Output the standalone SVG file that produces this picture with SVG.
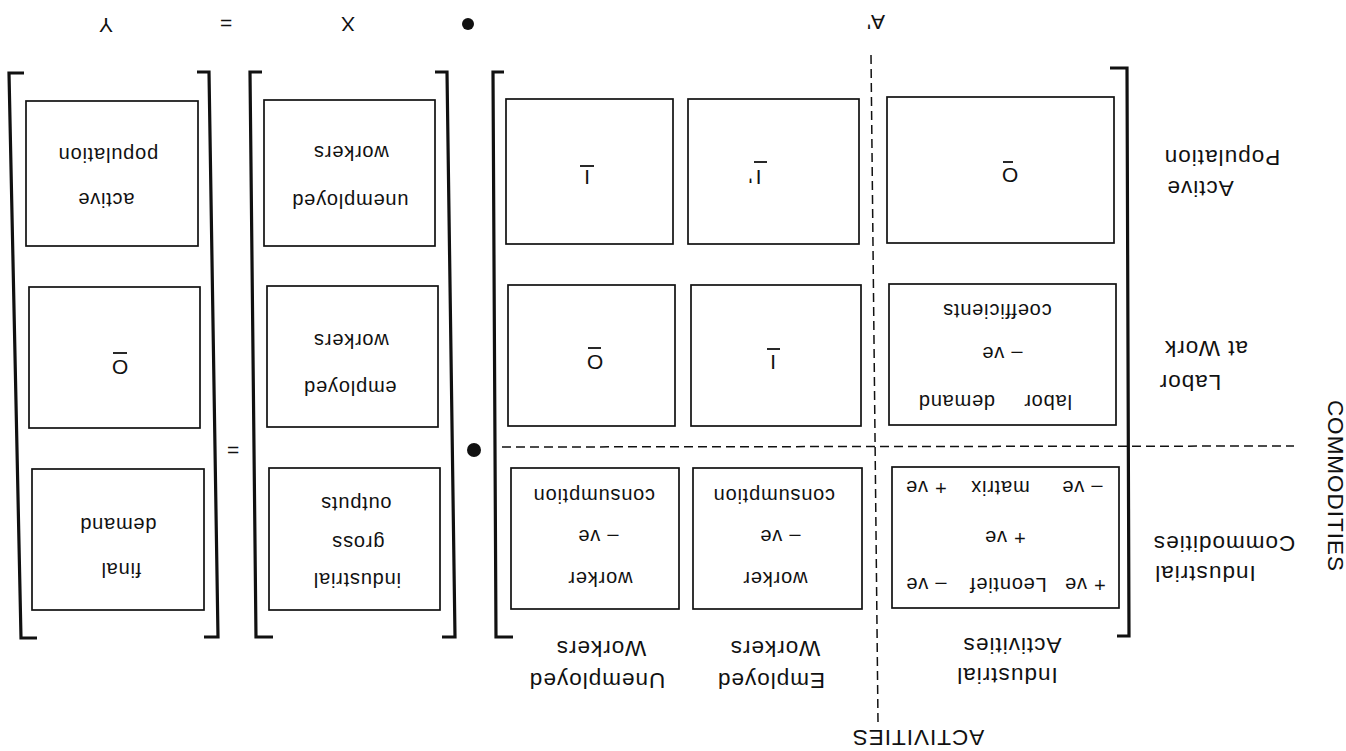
<svg xmlns="http://www.w3.org/2000/svg" width="1346" height="751" viewBox="0 0 1346 751" font-family="Liberation Sans, Arial, Helvetica, sans-serif">
<style>
.t{font-family:"Liberation Sans",Arial,Helvetica,sans-serif;fill:#111;text-anchor:middle;dominant-baseline:central}
.lab{font-size:22.5px;letter-spacing:1px}
.bx{font-size:20px;letter-spacing:0.8px}
.sym{font-size:21px}
.box{fill:#fff;stroke:#111;stroke-width:1.7}
.br{fill:none;stroke:#111;stroke-width:3.2;stroke-linejoin:miter}
.dash{fill:none;stroke:#111;stroke-width:1.5;stroke-dasharray:9 5}
.bar{stroke:#111;stroke-width:1.8}
</style>
<rect width="1346" height="751" fill="#fff"/>

<g id="top-labels" font-family="Liberation Sans, Arial, sans-serif">
<text class="t sym" x="106" y="25" transform="rotate(180 106 25)">Y</text>
<text class="t sym" x="226" y="23" transform="rotate(180 226 23)">=</text>
<text class="t sym" x="348" y="24" transform="rotate(180 348 24)">X</text>
<circle cx="468" cy="24" r="6" fill="#111"/>
<text class="t sym" x="876" y="22" transform="rotate(180 876 22)">A'</text>
</g>

<g id="connectors">
<line class="dash" x1="502" y1="447" x2="1294" y2="446"/>
<line class="dash" x1="871" y1="55" x2="878" y2="722"/>
</g>

<g id="brackets">
<path class="br" d="M24 73 L9 73 L21 638 L37 638"/>
<path class="br" d="M197 72 L209 72 L218 637 L204 637"/>
<path class="br" d="M262 72 L250 72 L256 637 L273 637"/>
<path class="br" d="M435 72 L447 72 L455 637 L442 637"/>
<path class="br" d="M504 72 L493 72 L496 637 L513 637"/>
<path class="br" d="M1110 68 L1127 68 L1129 636 L1117 636"/>
</g>

<g id="operators" font-family="Liberation Sans, Arial, sans-serif">
<text class="t sym" x="233" y="450" transform="rotate(180 233 450)">=</text>
<circle cx="474" cy="450" r="7" fill="#111"/>
</g>

<g id="y1" font-family="Liberation Sans, Arial, sans-serif">
<rect class="box" x="26" y="101" width="172" height="145"/>
<text class="t bx" x="108" y="155" transform="rotate(180 108 155)">population</text>
<text class="t bx" x="106" y="200" transform="rotate(180 106 200)">active</text>
</g>
<g id="y2" font-family="Liberation Sans, Arial, sans-serif">
<rect class="box" x="29" y="287" width="171" height="141"/>
<text class="t sym" x="120" y="367" transform="rotate(180 120 367)">O</text>
<line class="bar" x1="113" y1="353" x2="127" y2="353"/>
</g>
<g id="y3" font-family="Liberation Sans, Arial, sans-serif">
<rect class="box" x="32" y="469" width="172" height="141"/>
<text class="t bx" x="118" y="525" transform="rotate(180 118 525)">demand</text>
<text class="t bx" x="121" y="570" transform="rotate(180 121 570)">final</text>
</g>

<g id="x1" font-family="Liberation Sans, Arial, sans-serif">
<rect class="box" x="264" y="100" width="171" height="146"/>
<text class="t bx" x="351" y="153" transform="rotate(180 351 153)">workers</text>
<text class="t bx" x="350" y="201" transform="rotate(180 350 201)">unemployed</text>
</g>
<g id="x2" font-family="Liberation Sans, Arial, sans-serif">
<rect class="box" x="267" y="286" width="171" height="141"/>
<text class="t bx" x="351" y="341" transform="rotate(180 351 341)">workers</text>
<text class="t bx" x="350" y="388" transform="rotate(180 350 388)">employed</text>
</g>
<g id="x3" font-family="Liberation Sans, Arial, sans-serif">
<rect class="box" x="269" y="468" width="171" height="142"/>
<text class="t bx" x="356" y="504" transform="rotate(180 356 504)">outputs</text>
<text class="t bx" x="358" y="543" transform="rotate(180 358 543)">gross</text>
<text class="t bx" x="357" y="580" transform="rotate(180 357 580)">industrial</text>
</g>

<g id="a11" font-family="Liberation Sans, Arial, sans-serif">
<rect class="box" x="506" y="99" width="167" height="145"/>
<text class="t sym" x="587" y="177" transform="rotate(180 587 177)">I</text>
<line class="bar" x1="580" y1="166" x2="594" y2="166"/>
</g>
<g id="a12" font-family="Liberation Sans, Arial, sans-serif">
<rect class="box" x="688" y="99" width="171" height="145"/>
<text class="t sym" x="755" y="177" transform="rotate(180 755 177)">I<tspan dx="3">'</tspan></text>
<line class="bar" x1="754" y1="162" x2="767" y2="162"/>
</g>
<g id="a13" font-family="Liberation Sans, Arial, sans-serif">
<rect class="box" x="887" y="97" width="227" height="146"/>
<text class="t sym" x="1010" y="175" transform="rotate(180 1010 175)">O</text>
<line class="bar" x1="1003" y1="162" x2="1013" y2="162"/>
</g>
<g id="a21" font-family="Liberation Sans, Arial, sans-serif">
<rect class="box" x="508" y="285" width="167" height="141"/>
<text class="t sym" x="595" y="362" transform="rotate(180 595 362)">O</text>
<line class="bar" x1="588" y1="348" x2="601" y2="348"/>
</g>
<g id="a22" font-family="Liberation Sans, Arial, sans-serif">
<rect class="box" x="691" y="285" width="170" height="141"/>
<text class="t sym" x="773" y="362" transform="rotate(180 773 362)">I</text>
<line class="bar" x1="767" y1="349" x2="780" y2="349"/>
</g>
<g id="a23" font-family="Liberation Sans, Arial, sans-serif">
<rect class="box" x="889" y="284" width="227" height="141"/>
<text class="t bx" x="997" y="311" transform="rotate(180 997 311)">coefficients</text>
<text class="t bx" x="1002" y="354" transform="rotate(180 1002 354)">– ve</text>
<text class="t bx" x="995" y="402" transform="rotate(180 995 402)" word-spacing="22">labor demand</text>
</g>
<g id="a31" font-family="Liberation Sans, Arial, sans-serif">
<rect class="box" x="511" y="468" width="168" height="141"/>
<text class="t bx" x="594" y="496" transform="rotate(180 594 496)">consumption</text>
<text class="t bx" x="598" y="537" transform="rotate(180 598 537)">– ve</text>
<text class="t bx" x="600" y="579" transform="rotate(180 600 579)">worker</text>
</g>
<g id="a32" font-family="Liberation Sans, Arial, sans-serif">
<rect class="box" x="693" y="468" width="169" height="141"/>
<text class="t bx" x="774" y="496" transform="rotate(180 774 496)">consumption</text>
<text class="t bx" x="780" y="537" transform="rotate(180 780 537)">– ve</text>
<text class="t bx" x="775" y="579" transform="rotate(180 775 579)">worker</text>
</g>
<g id="a33" font-family="Liberation Sans, Arial, sans-serif">
<rect class="box" x="892" y="467" width="227" height="141"/>
<text class="t bx" x="1082" y="488" transform="rotate(180 1082 488)">– ve</text>
<text class="t bx" x="1000" y="488" transform="rotate(180 1000 488)">matrix</text>
<text class="t bx" x="926" y="488" transform="rotate(180 926 488)">+ ve</text>
<text class="t bx" x="1005" y="538" transform="rotate(180 1005 538)">+ ve</text>
<text class="t bx" x="1085" y="585" transform="rotate(180 1085 585)">+ ve</text>
<text class="t bx" x="1008" y="585" transform="rotate(180 1008 585)">Leontief</text>
<text class="t bx" x="926" y="585" transform="rotate(180 926 585)">– ve</text>
</g>

<g id="row-active-population" font-family="Liberation Sans, Arial, sans-serif">
<text class="t lab" x="1222" y="157" transform="rotate(180 1222 157)">Population</text>
<text class="t lab" x="1200" y="188" transform="rotate(180 1200 188)">Active</text>
</g>
<g id="row-labor" font-family="Liberation Sans, Arial, sans-serif">
<text class="t lab" x="1206" y="348" transform="rotate(180 1206 348)">at Work</text>
<text class="t lab" x="1190" y="382" transform="rotate(180 1190 382)">Labor</text>
</g>
<g id="row-commodities" font-family="Liberation Sans, Arial, sans-serif">
<text class="t lab" x="1224" y="543" transform="rotate(180 1224 543)">Commodities</text>
<text class="t lab" x="1205" y="573" transform="rotate(180 1205 573)">Industrial</text>
</g>
<g id="axis-commodities" font-family="Liberation Sans, Arial, sans-serif">
<text class="t lab" x="1335" y="486" transform="rotate(90 1335 486)">COMMODITIES</text>
</g>

<g id="col-industrial" font-family="Liberation Sans, Arial, sans-serif">
<text class="t lab" x="1012" y="645" transform="rotate(180 1012 645)">Activities</text>
<text class="t lab" x="1007" y="675" transform="rotate(180 1007 675)">Industrial</text>
</g>
<g id="col-employed" font-family="Liberation Sans, Arial, sans-serif">
<text class="t lab" x="775" y="648" transform="rotate(180 775 648)">Workers</text>
<text class="t lab" x="771" y="680" transform="rotate(180 771 680)">Employed</text>
</g>
<g id="col-unemployed" font-family="Liberation Sans, Arial, sans-serif">
<text class="t lab" x="601" y="648" transform="rotate(180 601 648)">Workers</text>
<text class="t lab" x="597" y="680" transform="rotate(180 597 680)">Unemployed</text>
</g>
<g id="axis-activities" font-family="Liberation Sans, Arial, sans-serif">
<text class="t lab" x="918" y="737" transform="rotate(180 918 737)">ACTIVITIES</text>
</g>
</svg>
